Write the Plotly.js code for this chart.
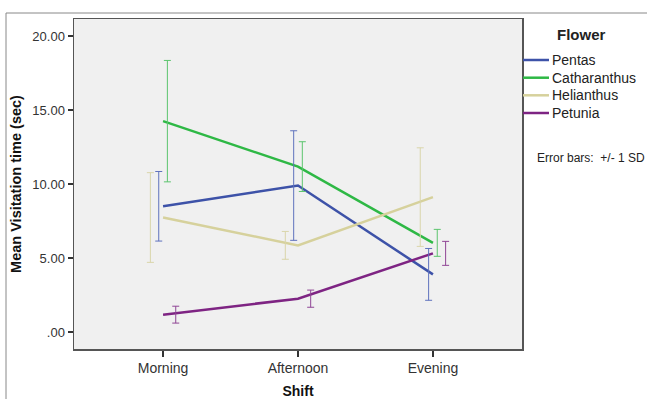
<!DOCTYPE html>
<html>
<head>
<meta charset="utf-8">
<script src="https://cdn.plot.ly/plotly-3.0.1.min.js"></script>
<style>
html,body{margin:0;padding:0;background:#fff;}
#chart{width:647px;height:399px;}
</style>
</head>
<body>
<div id="chart"></div>
<script>
// ---- data ----
var shifts = ["Morning", "Afternoon", "Evening"];
var flowers = ["Pentas", "Catharanthus", "Helianthus", "Petunia"];
var pentasMean = [8.5, 9.9, 3.9];
var pentasSD = [2.35, 3.7, 1.75];
var catharanthusMean = [14.25, 11.18, 6.03];
var catharanthusSD = [4.1, 1.68, 0.91];
var helianthusMean = [7.74, 5.86, 9.12];
var helianthusSD = [3.03, 0.94, 3.33];
var petuniaMean = [1.18, 2.26, 5.32];
var petuniaSD = [0.57, 0.58, 0.81];
var yTickVals = [0, 5, 10, 15, 20];
var yTickText = [".00", "5.00", "10.00", "15.00", "20.00"];

// ---- styles ----
var lineColors = ["#3d52a8", "#2eb845", "#d6d19c", "#7e2483"];
var errColors = ["#5f72bd", "#5cc46e", "#d9d5aa", "#8f4595"];
var errOffsets = [-0.032, 0.032, -0.094, 0.094];

var means = [pentasMean, catharanthusMean, helianthusMean, petuniaMean];
var sds = [pentasSD, catharanthusSD, helianthusSD, petuniaSD];
var xIdx = shifts.map(function(s, i){ return i; });

// plot area in pixels (for placing legend/frame in paper coords)
var PL = 74, PR = 522, PT = 19, PB = 349;
function px(x){ return (x - PL) / (PR - PL); }
function py(y){ return (PB - y) / (PB - PT); }

var traces = [];
flowers.forEach(function(f, k){
  traces.push({
    type: "scatter", mode: "lines", name: f, showlegend: false,
    x: xIdx, y: means[k],
    line: {color: lineColors[k], width: 2.5},
    hoverinfo: "skip"
  });
});
flowers.forEach(function(f, k){
  traces.push({
    type: "scatter", mode: "markers", name: f + " SD", showlegend: false,
    x: xIdx.map(function(v){ return v + errOffsets[k]; }), y: means[k],
    marker: {size: 1, color: "rgba(0,0,0,0)"},
    error_y: {type: "data", array: sds[k], visible: true, color: errColors[k], thickness: 1, width: 3.5},
    hoverinfo: "skip"
  });
});

var shapes = [
  {type: "line", xref: "paper", yref: "paper", x0: px(6), x1: px(660), y0: py(13), y1: py(13), line: {color: "#888", width: 1}},
  {type: "line", xref: "paper", yref: "paper", x0: px(6), x1: px(6), y0: py(13), y1: py(420), line: {color: "#888", width: 1}}
];
var annotations = [
  {xref: "paper", yref: "paper", x: px(581), y: py(35), xanchor: "center", yanchor: "middle",
   text: "<b>Flower</b>", showarrow: false, font: {size: 15, color: "#222"}},
  {xref: "paper", yref: "paper", x: px(535), y: py(158), xanchor: "left", yanchor: "middle",
   text: "Error bars:  +/- 1 SD", showarrow: false, font: {size: 12, color: "#222"}}
];
var legendRowY = [60, 77.7, 95.3, 113];
flowers.forEach(function(f, k){
  shapes.push({type: "line", xref: "paper", yref: "paper", x0: px(523), x1: px(549),
    y0: py(legendRowY[k]), y1: py(legendRowY[k]), line: {color: lineColors[k], width: 2.5}});
  annotations.push({xref: "paper", yref: "paper", x: px(550), y: py(legendRowY[k]), xanchor: "left", yanchor: "middle",
    text: f, showarrow: false, font: {size: 14, color: "#222"}});
});

var font = "Arial, 'Liberation Sans', sans-serif";
var layout = {
  width: 647, height: 399,
  margin: {l: PL, r: 647 - PR, t: PT, b: 399 - PB},
  paper_bgcolor: "#ffffff",
  plot_bgcolor: "#f0f0f0",
  font: {family: font, size: 12, color: "#333"},
  showlegend: false,
  xaxis: {
    range: [-0.66, 2.66],
    tickmode: "array", tickvals: xIdx, ticktext: shifts,
    ticks: "outside", ticklen: 6, tickcolor: "#333", tickwidth: 1.5,
    showgrid: false, zeroline: false,
    showline: true, mirror: true, linecolor: "#555", linewidth: 1.5,
    tickfont: {size: 14, color: "#333"},
    title: {text: "<b>Shift</b>", font: {size: 14, color: "#111"}, standoff: 12}
  },
  yaxis: {
    range: [-1.14, 21.15],
    tickmode: "array", tickvals: yTickVals, ticktext: yTickText,
    ticks: "outside", ticklen: 5, tickcolor: "#333", tickwidth: 1.5,
    showgrid: false, zeroline: false,
    showline: true, mirror: true, linecolor: "#555", linewidth: 1.5,
    tickfont: {size: 13, color: "#333"},
    title: {text: "<b>Mean Visitation time (sec)</b>", font: {size: 14.5, color: "#111"}, standoff: 7}
  },
  shapes: shapes,
  annotations: annotations
};

Plotly.newPlot("chart", traces, layout, {displayModeBar: false, staticPlot: true});
</script>
</body>
</html>
